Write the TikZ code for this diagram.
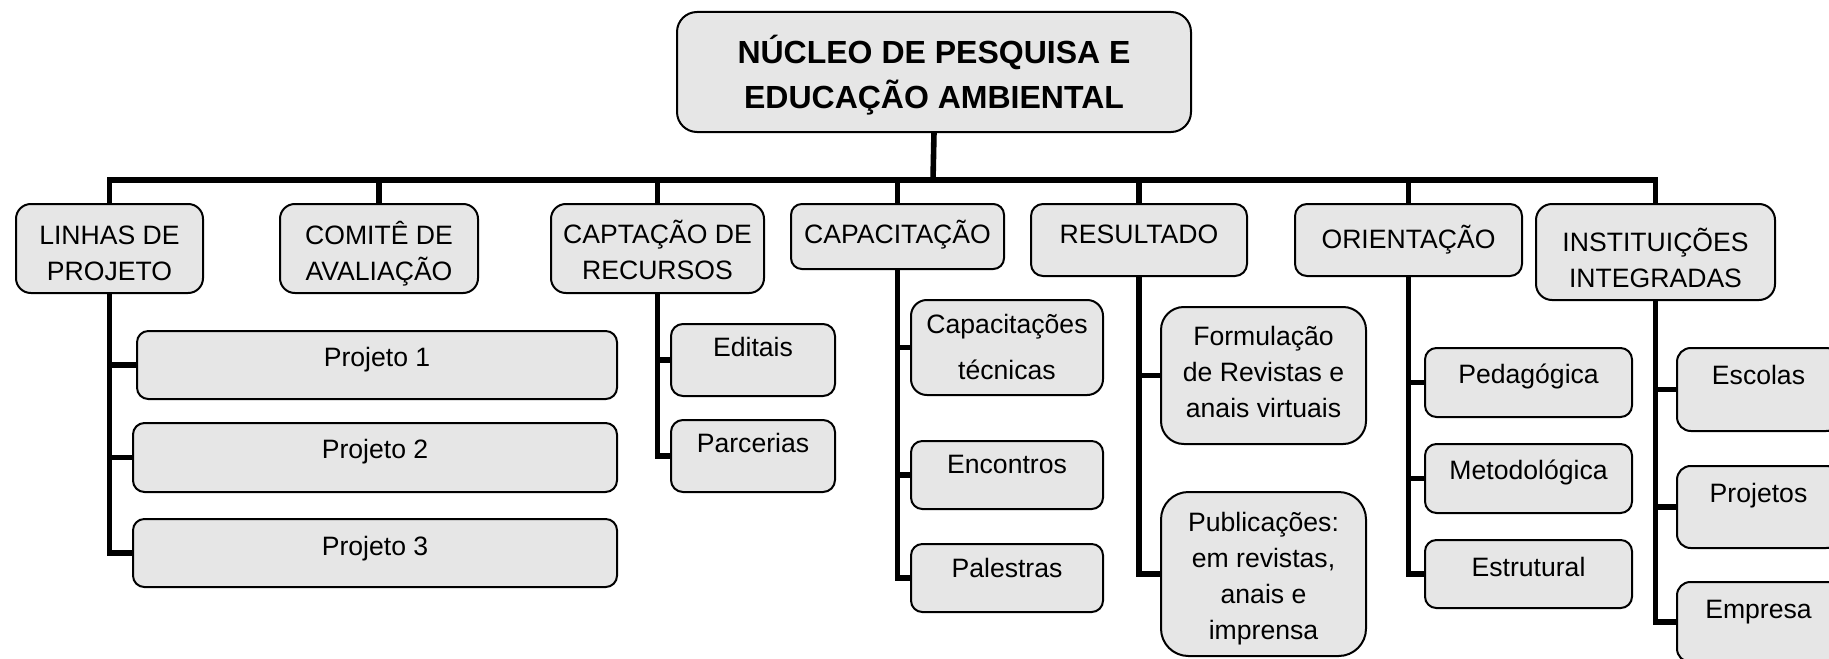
\documentclass[tikz,border=0pt]{standalone}
\usepackage{fontspec}
\setmainfont{Liberation Sans}
\usetikzlibrary{backgrounds}
\definecolor{boxfill}{RGB}{230,230,230}
\lineskiplimit=-100pt
\newcommand\mystrut{\vrule width 0pt height 0.7\baselineskip depth 0.3\baselineskip\relax}
\tikzset{
  orgbox/.style={draw=black, line width=1pt, fill=boxfill, rectangle, inner sep=0pt, outer sep=0pt},
  boxtext/.style={font=\fontsize{13.3}{18}\selectfont, align=center, inner sep=0pt, anchor=north},
  titletext/.style={boxtext, font=\fontsize{16}{22.5}\selectfont\bfseries},
  widetext/.style={boxtext, font=\fontsize{13.3}{23}\selectfont},
  conn/.style={line width=2.8pt, line join=miter, line cap=rect},
}
% \mkbox[text style]{name}{x1}{y1}{x2}{y2}{text top y}{text}
\newcommand\mkbox[8][]{%
  \pgfmathsetmacro\bw{(#5-#3)*0.5}%
  \pgfmathsetmacro\bh{(#6-#4)*0.5}%
  \pgfmathsetmacro\br{0.1667*min(\bw,\bh)}%
  \node[orgbox, minimum width=\bw pt, minimum height=\bh pt, rounded corners=\br pt]
    (#2) at ({(#3+#5)/2},{(#4+#6)/2}) {};
  \node[boxtext,#1] (#2-t) at ({(#3+#5)/2},#7) {\mystrut#8\mystrut};
}
\begin{document}
\begin{tikzpicture}[x=0.5pt,y=-0.5pt]
\useasboundingbox (0,0) rectangle (1829,658);
\clip (0,0) rectangle (1829,658);

% root
\mkbox[titletext]{top}{677}{12}{1191}{132}{31.5}{NÚCLEO DE PESQUISA E\\EDUCAÇÃO AMBIENTAL}

% level 1
\mkbox{lin}{16}{204}{203}{293}{218.8}{LINHAS DE\\PROJETO}
\mkbox{com}{280}{204}{478}{293}{218.8}{COMITÊ DE\\AVALIAÇÃO}
\mkbox{cap}{551}{204}{764}{293}{218}{CAPTAÇÃO DE\\RECURSOS}
\mkbox{capac}{791}{204}{1004}{269}{218}{CAPACITAÇÃO}
\mkbox{res}{1031}{204}{1247}{276}{218}{RESULTADO}
\mkbox{ori}{1295}{204}{1522}{276}{222.8}{ORIENTAÇÃO}
\mkbox{inst}{1536}{204}{1775}{300}{225.8}{INSTITUIÇÕES\\INTEGRADAS}

% children of LINHAS DE PROJETO
\mkbox{p1}{137}{331}{617}{399}{340.8}{Projeto 1}
\mkbox{p2}{133}{423}{617}{492}{432.8}{Projeto 2}
\mkbox{p3}{133}{519}{617}{587}{529.8}{Projeto 3}

% children of CAPTAÇÃO DE RECURSOS
\mkbox{edi}{671}{324}{835}{396}{330.8}{Editais}
\mkbox{par}{671}{420}{835}{492}{426.8}{Parcerias}

% children of CAPACITAÇÃO
\mkbox[widetext]{capt}{911}{300}{1103}{395}{300.8}{Capacitações\\técnicas}
\mkbox{enc}{911}{441}{1103}{509}{447.8}{Encontros}
\mkbox{pal}{911}{544}{1103}{612}{551.8}{Palestras}

% children of RESULTADO
\mkbox{form}{1161}{307}{1366}{444}{319.8}{Formulação\\de Revistas e\\anais virtuais}
\mkbox{pub}{1161}{492}{1366}{656}{505.8}{Publicações:\\em revistas,\\anais e\\imprensa}

% children of ORIENTAÇÃO
\mkbox{ped}{1425}{348}{1632}{417}{357.8}{Pedagógica}
\mkbox{met}{1425}{444}{1632}{513}{453.8}{Metodológica}
\mkbox{est}{1425}{540}{1632}{608}{550.8}{Estrutural}

% children of INSTITUIÇÕES INTEGRADAS
\mkbox{esc}{1677}{348}{1840}{431}{358.8}{Escolas}
\mkbox{proj}{1677}{466}{1840}{548}{476.8}{Projetos}
\mkbox{emp}{1677}{582}{1840}{662}{592.8}{Empresa}

\begin{pgfonlayer}{background}
  \coordinate (bus) at (933,180);
  \draw[conn] (top.south) -- (bus);
  \draw[conn] (lin.north) -- (lin.north |- bus) -- (inst.north |- bus) -- (inst.north);
  \foreach \n in {com,cap,capac,res,ori}
    \draw[conn] (\n.north) -- (\n.north |- bus);
  % LINHAS
  \draw[conn] (lin.south) |- (p3.west);
  \draw[conn] (lin.south |- p1.west) -- (p1.west);
  \draw[conn] (lin.south |- p2.west) -- (p2.west);
  % CAPTAÇÃO
  \draw[conn] (cap.south) |- (par.west);
  \draw[conn] (cap.south |- edi.west) -- (edi.west);
  % CAPACITAÇÃO
  \draw[conn] (capac.south) |- (pal.west);
  \draw[conn] (capac.south |- capt.west) -- (capt.west);
  \draw[conn] (capac.south |- enc.west) -- (enc.west);
  % RESULTADO
  \draw[conn] (res.south) |- (pub.west);
  \draw[conn] (res.south |- form.west) -- (form.west);
  % ORIENTAÇÃO
  \draw[conn] (ori.south) |- (est.west);
  \draw[conn] (ori.south |- ped.west) -- (ped.west);
  \draw[conn] (ori.south |- met.west) -- (met.west);
  % INSTITUIÇÕES
  \draw[conn] (inst.south) |- (emp.west);
  \draw[conn] (inst.south |- esc.west) -- (esc.west);
  \draw[conn] (inst.south |- proj.west) -- (proj.west);
\end{pgfonlayer}
\end{tikzpicture}
\end{document}
